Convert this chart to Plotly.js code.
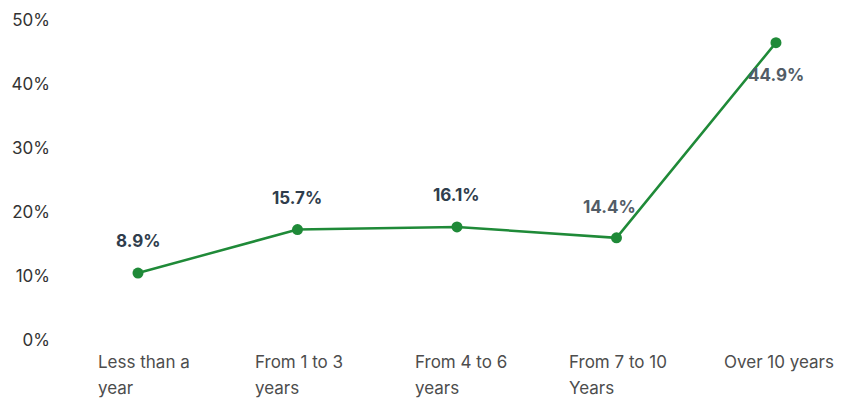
<!DOCTYPE html>
<html><head><meta charset="utf-8">
<script src="https://cdn.plot.ly/plotly-3.0.1.min.js"></script>
<style>html,body{margin:0;padding:0;background:#fff}#c{width:841px;height:403px}</style>
</head><body><div id="c"></div>
<script>
const categories = ["Less than a<br>year", "From 1 to 3<br>years", "From 4 to 6<br>years", "From 7 to 10<br>Years", "Over 10 years"];
const values = [8.9, 15.7, 16.1, 14.4, 44.9];
const valueLabels = ["8.9%", "15.7%", "16.1%", "14.4%", "44.9%"];
const yTicks = [0, 10, 20, 30, 40, 50];
const yTickLabels = ["0%", "10%", "20%", "30%", "40%", "50%"];

const green = "#1f8a38";
const font = "Inter, 'Open Sans', sans-serif";
const labelShift = [32, 32, 32, 31, -32];
const labelColors = ["#2f3d4c", "#2f3d4c", "#2f3d4c", "#525c66", "#525c66"];
const catShift = [-42, -44, -44, -49, -54];

const trace = {
  x: [0,1,2,3,4], y: values, type: "scatter", mode: "lines+markers",
  line: {color: green, width: 2.5},
  marker: {color: green, size: 11},
  hoverinfo: "skip"
};
const annotations = [];
values.forEach((v, i) => {
  annotations.push({x: i, y: v, xref: "x", yref: "y", text: valueLabels[i], showarrow: false,
    yshift: labelShift[i], xshift: i === 3 ? -7 : 0,
    font: {family: font, size: 17, color: labelColors[i], weight: 700}});
});
categories.forEach((c, i) => {
  c.split("<br>").forEach((line, j) => {
    annotations.push({x: i, y: 0, xref: "x", yref: "y", text: line, showarrow: false,
      xanchor: "left", yanchor: "middle", xshift: catShift[i], yshift: -32 - 26 * j,
      font: {family: font, size: 17, color: "#4d4d4d"}});
  });
});
const layout = {
  width: 841, height: 403,
  margin: {l: 60, r: 10, t: 10, b: 73},
  paper_bgcolor: "#fff", plot_bgcolor: "#fff",
  showlegend: false,
  xaxis: {range: [-0.489, 4.345], showgrid: false, zeroline: false, showline: false,
    showticklabels: false, ticks: ""},
  yaxis: {range: [0, 50], tickvals: yTicks, ticktext: yTickLabels, showgrid: false, zeroline: false,
    showline: false, ticks: "", ticklabelshift: 10, ticklabelstandoff: 9,
    tickfont: {family: font, size: 17, color: "#333"}},
  annotations: annotations
};
Plotly.newPlot("c", [trace], layout, {displayModeBar: false, staticPlot: true});
</script></body></html>
